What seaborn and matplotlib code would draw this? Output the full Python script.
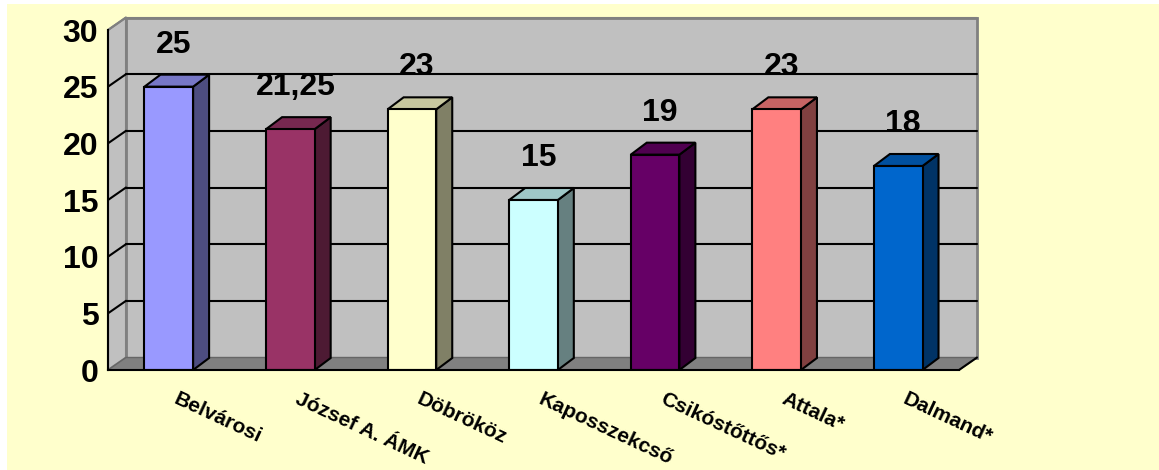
import numpy as np
import pandas as pd
import matplotlib
matplotlib.use('Agg')
import matplotlib.pyplot as plt
import seaborn as sns
from matplotlib.patches import Polygon, Rectangle
from matplotlib import transforms, colors as mcolors

sns.set_style('white')
plt.rcParams['font.family'] = ['Liberation Sans', 'DejaVu Sans']
plt.rcParams['text.color'] = 'black'
plt.rcParams['xtick.color'] = 'black'
plt.rcParams['ytick.color'] = 'black'
plt.rcParams['axes.labelcolor'] = 'black'

# ---- data ----
categories = ['Belvárosi', 'József A. ÁMK', 'Döbrököz', 'Kaposszekcső',
              'Csikóstőttős*', 'Attala*', 'Dalmand*']
values = [25, 21.25, 23, 15, 19, 23, 18]
value_labels = ['25', '21,25', '23', '15', '19', '23', '18']
front_colors = ['#9999FF', '#993366', '#FFFFCC', '#CCFFFF', '#660066', '#FF8080', '#0066CC']
y_ticks = [0, 5, 10, 15, 20, 25, 30]

df = pd.DataFrame({'school': categories, 'value': values})

W, H = 1159, 470
fig = plt.figure(figsize=(W / 100, H / 100), dpi=100, facecolor='white')
fig.add_artist(Rectangle((7 / W, 0), 1 - 7 / W, 466 / H, transform=fig.transFigure,
                         facecolor='#FFFFCC', edgecolor='none', zorder=-10))

ax_l, ax_b, ax_w, ax_h = 108, 100, 851, 340
ax = fig.add_axes([ax_l / W, ax_b / H, ax_w / W, ax_h / H])
ax.set_facecolor('none')

sns.barplot(data=df, x='school', y='value', hue='school', palette=front_colors,
            width=0.4, edgecolor='black', linewidth=1.5, legend=False, ax=ax,
            saturation=1, zorder=3)
bars = list(ax.patches)

ax.set_xlim(-0.5, 6.5)
ax.set_ylim(0, 30)

# pixel -> data conversions for the fake 3D depth
px_x = ax_w / 7
px_y = ax_h / 30
wdx, wdy = 18 / px_x, 12.5 / px_y
bdx, bdy = 16 / px_x, 12 / px_y

x0, x1, ytop = -0.5, 6.5, 30

# ---- walls & floor ----
back = Polygon([(x0 + wdx, wdy), (x1 + wdx, wdy), (x1 + wdx, ytop + wdy), (x0 + wdx, ytop + wdy)],
               closed=True, facecolor='#C0C0C0', edgecolor='#808080', lw=2, clip_on=False, zorder=0.5)
left = Polygon([(x0, 0), (x0, ytop), (x0 + wdx, ytop + wdy), (x0 + wdx, wdy)],
               closed=True, facecolor='#C0C0C0', edgecolor='#808080', lw=1.5, clip_on=False, zorder=0.6)
floor = Polygon([(x0, 0), (x1, 0), (x1 + wdx, wdy), (x0 + wdx, wdy)],
                closed=True, facecolor='#808080', edgecolor='#666666', lw=1, clip_on=False, zorder=0.7)
for p in (back, left, floor):
    ax.add_patch(p)

for yv in y_ticks[1:]:
    c = 'black' if yv < 30 else '#808080'
    ax.plot([x0, x0 + wdx], [yv, yv + wdy], color=c, lw=1.5, clip_on=False, zorder=0.8)
    ax.plot([x0 + wdx, x1 + wdx], [yv + wdy, yv + wdy], color=c, lw=1.5, clip_on=False, zorder=0.8)
ax.plot([x1, x1 + wdx], [0, wdy], color='black', lw=1.5, clip_on=False, zorder=0.9)

# ---- bar sides, tops and labels ----
for bar, lab in zip(bars, value_labels):
    bx, bw, bh = bar.get_x(), bar.get_width(), bar.get_height()
    rgb = np.array(mcolors.to_rgb(bar.get_facecolor()))
    side = Polygon([(bx + bw, 0), (bx + bw, bh), (bx + bw + bdx, bh + bdy), (bx + bw + bdx, bdy)],
                   closed=True, facecolor=rgb * 0.5, edgecolor='black', lw=1.5, clip_on=False, zorder=2)
    top = Polygon([(bx, bh), (bx + bw, bh), (bx + bw + bdx, bh + bdy), (bx + bdx, bh + bdy)],
                  closed=True, facecolor=rgb * 0.78, edgecolor='black', lw=1.5, clip_on=False, zorder=2)
    ax.add_patch(side)
    ax.add_patch(top)
    ax.text(bx + bw / 2 + 5 / px_x, bh + 3.7, lab, ha='center', va='center',
            fontsize=23, fontweight='bold', zorder=5, clip_on=False)

# ---- axes ----
for s in ['top', 'right']:
    ax.spines[s].set_visible(False)
for s in ['left', 'bottom']:
    ax.spines[s].set_color('black')
    ax.spines[s].set_linewidth(1.5)
    ax.spines[s].set_zorder(4)

ax.set_yticks(y_ticks)
ax.tick_params(axis='y', length=5, width=1.5, direction='out', pad=2, labelsize=23, colors='black')
for t in ax.get_yticklabels():
    t.set_fontweight('bold')

ax.set_xticks(range(len(categories)))
ax.set_xticklabels(categories, rotation=-25, ha='left', rotation_mode='anchor',
                   fontsize=15, fontweight='bold')
ax.set_xticks(np.arange(-0.5, 7, 1), minor=True)
ax.tick_params(axis='x', which='major', length=0, pad=14)
ax.tick_params(axis='x', which='minor', length=6, width=1.5, direction='out', color='black')
offset = transforms.ScaledTranslation(10 / 100, 0, fig.dpi_scale_trans)
for lbl in ax.get_xticklabels():
    lbl.set_transform(lbl.get_transform() + offset)

ax.set_xlabel('')
ax.set_ylabel('')

fig.savefig('out.png', dpi=100)
